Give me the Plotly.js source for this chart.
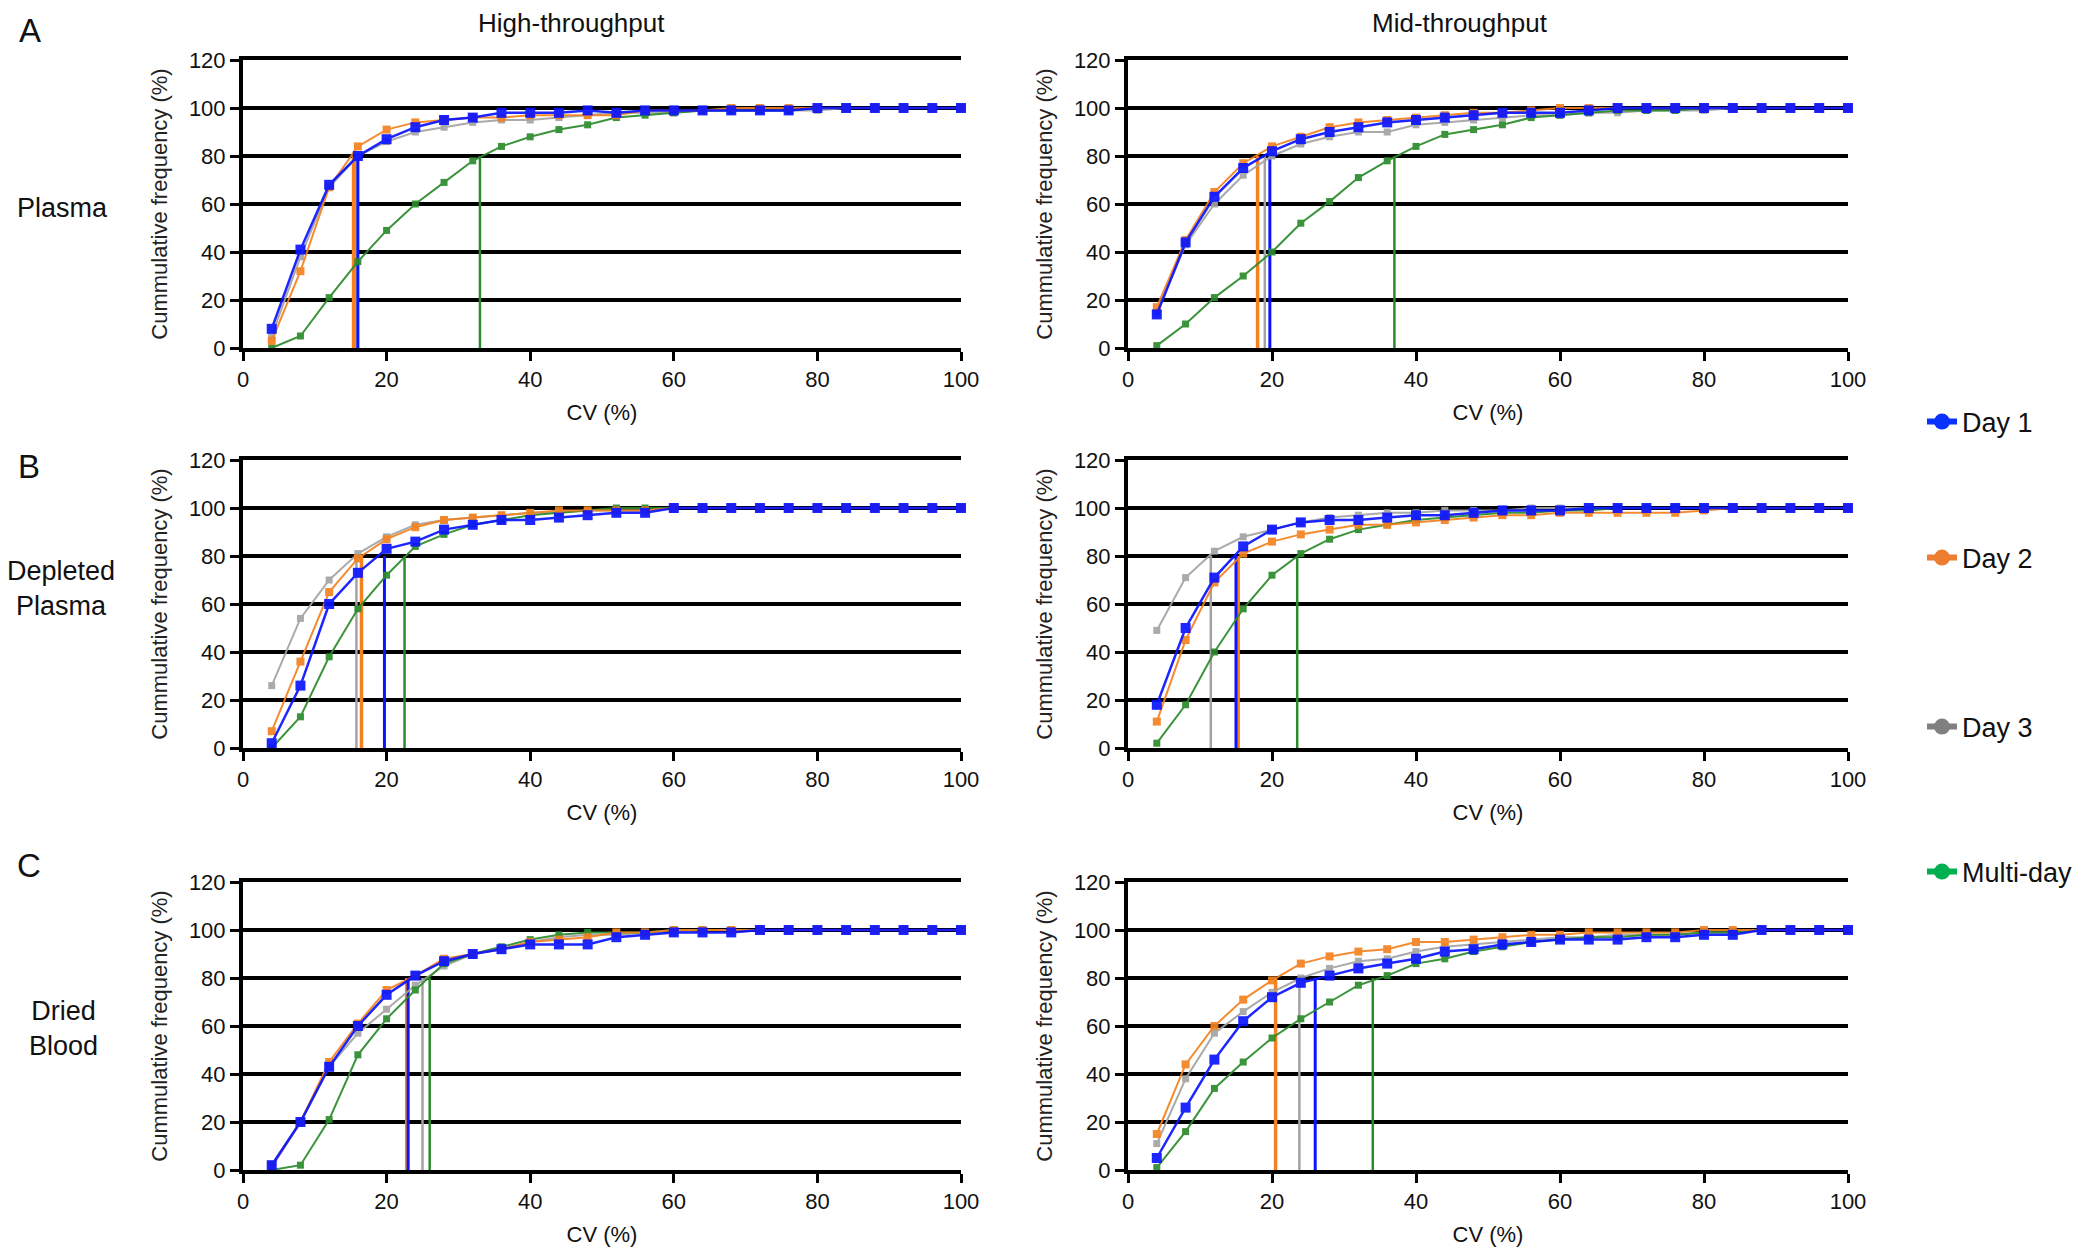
<!DOCTYPE html>
<html>
<head>
<meta charset="utf-8">
<script src="https://cdn.plot.ly/plotly-3.0.1.min.js"></script>
<style>
    html, body { margin: 0; padding: 0; background: #fff; }
    #chart { width: 2100px; height: 1259px; }
</style>
</head>
<body>
<div id="chart"></div>
<script>
// CV bins (%) shared by every panel
const cvBins = [4, 8, 12, 16, 20, 24, 28, 32, 36, 40, 44, 48, 52, 56, 60, 64, 68, 72, 76, 80, 84, 88, 92, 96, 100];

const seriesNames = ["Day 1", "Day 2", "Day 3", "Multi-day"];
const lineColors = ["#0a14ff", "#f5821f", "#a3a3a3", "#2b8a2b"];
const legendColors = ["#0a32ff", "#ed7d31", "#808080", "#00b050"];
const cutLevel = 80;

// A - Plasma, high-throughput
const plasmaHighDay1 = [8, 41, 68, 80, 87, 92, 95, 96, 98, 98, 98, 99, 98, 99, 99, 99, 99, 99, 99, 100, 100, 100, 100, 100, 100];
const plasmaHighDay2 = [3, 32, 67, 84, 91, 94, 95, 96, 96, 97, 97, 97, 97, 99, 99, 99, 100, 100, 100, 100, 100, 100, 100, 100, 100];
const plasmaHighDay3 = [5, 38, 67, 80, 86, 90, 92, 94, 95, 95, 96, 97, 98, 98, 98, 99, 99, 99, 99, 99, 100, 100, 100, 100, 100];
const plasmaHighMulti = [0, 5, 21, 36, 49, 60, 69, 78, 84, 88, 91, 93, 96, 97, 98, 99, 99, 99, 99, 100, 100, 100, 100, 100, 100];
const plasmaHighCut = [16, 15.4, 15.7, 33];

// A - Plasma, mid-throughput
const plasmaMidDay1 = [14, 44, 63, 75, 82, 87, 90, 92, 94, 95, 96, 97, 98, 98, 98, 99, 100, 100, 100, 100, 100, 100, 100, 100, 100];
const plasmaMidDay2 = [17, 45, 65, 77, 84, 88, 92, 94, 95, 96, 97, 98, 98, 99, 100, 100, 100, 100, 100, 100, 100, 100, 100, 100, 100];
const plasmaMidDay3 = [15, 43, 60, 72, 80, 85, 88, 90, 90, 93, 94, 95, 96, 97, 97, 98, 98, 99, 99, 99, 100, 100, 100, 100, 100];
const plasmaMidMulti = [1, 10, 21, 30, 40, 52, 61, 71, 78, 84, 89, 91, 93, 96, 97, 98, 99, 99, 99, 100, 100, 100, 100, 100, 100];
const plasmaMidCut = [19.7, 18, 19, 37];

// B - Depleted plasma, high-throughput
const depletedHighDay1 = [2, 26, 60, 73, 83, 86, 91, 93, 95, 95, 96, 97, 98, 98, 100, 100, 100, 100, 100, 100, 100, 100, 100, 100, 100];
const depletedHighDay2 = [7, 36, 65, 79, 87, 92, 95, 96, 97, 98, 99, 99, 99, 99, 100, 100, 100, 100, 100, 100, 100, 100, 100, 100, 100];
const depletedHighDay3 = [26, 54, 70, 81, 88, 93, 95, 96, 97, 98, 98, 99, 99, 99, 100, 100, 100, 100, 100, 100, 100, 100, 100, 100, 100];
const depletedHighMulti = [0, 13, 38, 58, 72, 84, 89, 93, 95, 97, 98, 99, 100, 100, 100, 100, 100, 100, 100, 100, 100, 100, 100, 100, 100];
const depletedHighCut = [19.7, 16.5, 15.8, 22.5];

// B - Depleted plasma, mid-throughput
const depletedMidDay1 = [18, 50, 71, 84, 91, 94, 95, 95, 96, 97, 97, 98, 99, 99, 99, 100, 100, 100, 100, 100, 100, 100, 100, 100, 100];
const depletedMidDay2 = [11, 45, 69, 81, 86, 89, 91, 93, 93, 94, 95, 96, 97, 97, 98, 98, 98, 98, 98, 99, 100, 100, 100, 100, 100];
const depletedMidDay3 = [49, 71, 82, 88, 91, 94, 96, 97, 98, 98, 99, 99, 99, 100, 100, 100, 100, 100, 100, 100, 100, 100, 100, 100, 100];
const depletedMidMulti = [2, 18, 40, 58, 72, 81, 87, 91, 93, 95, 96, 97, 98, 98, 99, 99, 100, 100, 100, 100, 100, 100, 100, 100, 100];
const depletedMidCut = [15, 15.3, 11.5, 23.5];

// C - Dried blood, high-throughput
const driedHighDay1 = [2, 20, 43, 60, 73, 81, 87, 90, 92, 94, 94, 94, 97, 98, 99, 99, 99, 100, 100, 100, 100, 100, 100, 100, 100];
const driedHighDay2 = [2, 20, 45, 61, 75, 81, 88, 90, 92, 95, 96, 97, 99, 99, 100, 100, 100, 100, 100, 100, 100, 100, 100, 100, 100];
const driedHighDay3 = [1, 20, 43, 57, 67, 77, 85, 90, 92, 95, 97, 98, 98, 99, 99, 100, 100, 100, 100, 100, 100, 100, 100, 100, 100];
const driedHighMulti = [0, 2, 21, 48, 63, 75, 86, 90, 93, 96, 98, 99, 99, 99, 100, 100, 100, 100, 100, 100, 100, 100, 100, 100, 100];
const driedHighCut = [23, 22.8, 25, 26];

// C - Dried blood, mid-throughput
const driedMidDay1 = [5, 26, 46, 62, 72, 78, 81, 84, 86, 88, 91, 92, 94, 95, 96, 96, 96, 97, 97, 98, 98, 100, 100, 100, 100];
const driedMidDay2 = [15, 44, 60, 71, 79, 86, 89, 91, 92, 95, 95, 96, 97, 98, 98, 99, 99, 99, 99, 100, 100, 100, 100, 100, 100];
const driedMidDay3 = [11, 38, 57, 66, 74, 80, 84, 87, 88, 91, 93, 94, 95, 96, 97, 97, 98, 98, 98, 99, 99, 100, 100, 100, 100];
const driedMidMulti = [1, 16, 34, 45, 55, 63, 70, 77, 81, 86, 88, 91, 93, 95, 96, 97, 97, 98, 98, 99, 99, 100, 100, 100, 100];
const driedMidCut = [26, 20.5, 23.8, 34];

const FONT = "'Liberation Sans', Arial, sans-serif";

const panels = [
    { ax: 1, values: [plasmaHighDay1, plasmaHighDay2, plasmaHighDay3, plasmaHighMulti], cuts: plasmaHighCut },
    { ax: 2, values: [plasmaMidDay1, plasmaMidDay2, plasmaMidDay3, plasmaMidMulti], cuts: plasmaMidCut },
    { ax: 3, values: [depletedHighDay1, depletedHighDay2, depletedHighDay3, depletedHighMulti], cuts: depletedHighCut },
    { ax: 4, values: [depletedMidDay1, depletedMidDay2, depletedMidDay3, depletedMidMulti], cuts: depletedMidCut },
    { ax: 5, values: [driedHighDay1, driedHighDay2, driedHighDay3, driedHighMulti], cuts: driedHighCut },
    { ax: 6, values: [driedMidDay1, driedMidDay2, driedMidDay3, driedMidMulti], cuts: driedMidCut }
];

// pixel boxes of the plot areas -> paper fractions
const W = 2100, H = 1259;
const colsPx = [[243, 961], [1128, 1848]];
const rowsPx = [[60, 348], [460, 748], [882, 1170]];

// draw order: gray, green, orange, blue on top
const drawOrder = [2, 3, 1, 0];
const markerSizes = [10, 8, 7, 7];
const lineWidths = [2.5, 2, 2, 2];
const cutWidths = [3, 3.5, 2.5, 2.5];

const traces = [];
panels.forEach(p => {
    const xa = p.ax === 1 ? "x" : "x" + p.ax;
    const ya = p.ax === 1 ? "y" : "y" + p.ax;
    // 80% cut-off lines
    drawOrder.forEach(i => {
        traces.push({
            x: [p.cuts[i], p.cuts[i]],
            y: [0, cutLevel],
            xaxis: xa, yaxis: ya,
            type: "scatter", mode: "lines",
            line: { color: lineColors[i], width: cutWidths[i] },
            showlegend: false, hoverinfo: "skip", cliponaxis: false
        });
    });
    drawOrder.forEach(i => {
        traces.push({
            x: cvBins,
            y: p.values[i],
            xaxis: xa, yaxis: ya,
            type: "scatter", mode: "lines+markers",
            name: seriesNames[i],
            line: { color: lineColors[i], width: lineWidths[i] },
            marker: { symbol: "square", size: markerSizes[i], color: lineColors[i] },
            opacity: 0.92,
            showlegend: false, cliponaxis: false
        });
    });
});

// legend-only traces, one legend box per series
seriesNames.forEach((name, i) => {
    traces.push({
        x: [null], y: [null],
        type: "scatter", mode: "lines+markers",
        name: name,
        legend: i === 0 ? "legend" : "legend" + (i + 1),
        line: { color: legendColors[i], width: 6 },
        marker: { symbol: "circle", size: 16, color: legendColors[i] },
        showlegend: true
    });
});

const layout = {
    width: W, height: H,
    margin: { l: 0, r: 0, t: 0, b: 0 },
    paper_bgcolor: "#fff", plot_bgcolor: "#fff",
    font: { family: FONT, color: "#111" },
    annotations: [],
    showlegend: true
};

panels.forEach((p, idx) => {
    const col = idx % 2, row = Math.floor(idx / 2);
    const xKey = p.ax === 1 ? "xaxis" : "xaxis" + p.ax;
    const yKey = p.ax === 1 ? "yaxis" : "yaxis" + p.ax;
    const xa = p.ax === 1 ? "x" : "x" + p.ax;
    const ya = p.ax === 1 ? "y" : "y" + p.ax;
    layout[xKey] = {
        domain: [colsPx[col][0] / W, colsPx[col][1] / W],
        anchor: ya,
        range: [0, 100], tick0: 0, dtick: 20,
        ticks: "outside", ticklen: 9, tickwidth: 3, tickcolor: "#000",
        showline: true, linewidth: 4, linecolor: "#000", mirror: true,
        showgrid: false, zeroline: false,
        tickfont: { size: 22, color: "#111" },
        title: { text: "CV (%)", font: { size: 22, color: "#111" }, standoff: 14 }
    };
    layout[yKey] = {
        domain: [1 - rowsPx[row][1] / H, 1 - rowsPx[row][0] / H],
        anchor: xa,
        range: [0, 120], tick0: 0, dtick: 20,
        ticks: "outside", ticklen: 9, tickwidth: 3, tickcolor: "#000",
        showline: true, linewidth: 4, linecolor: "#000",
        showgrid: true, gridcolor: "#000", gridwidth: 4, zeroline: false,
        tickfont: { size: 22, color: "#111" },
        title: { text: "Cummulative frequency (%)", font: { size: 22, color: "#222" }, standoff: 16 }
    };
});

// legend boxes at the right
const legendY = [422, 558, 727, 872];
legendY.forEach((py, i) => {
    const key = i === 0 ? "legend" : "legend" + (i + 1);
    layout[key] = {
        x: 1922 / W, y: 1 - py / H,
        xanchor: "left", yanchor: "middle",
        bgcolor: "rgba(0,0,0,0)", borderwidth: 0,
        font: { size: 27, family: FONT, color: "#111" }
    };
});

const addText = (text, px, py, size) => layout.annotations.push({
    text, x: px / W, y: 1 - py / H, xref: "paper", yref: "paper",
    xanchor: "center", yanchor: "middle", showarrow: false,
    font: { size, family: FONT, color: "#111" }
});

addText("High-throughput", 571, 23, 26);
addText("Mid-throughput", 1460, 23, 26);
addText("A", 30, 31, 33);
addText("B", 29, 466, 33);
addText("C", 29, 865, 33);
addText("Plasma", 62, 208, 27);
addText("Depleted<br>Plasma", 61, 588, 27);
addText("Dried<br>Blood", 63, 1028, 27);

Plotly.newPlot("chart", traces, layout, { displayModeBar: false, staticPlot: true });
</script>
</body>
</html>
